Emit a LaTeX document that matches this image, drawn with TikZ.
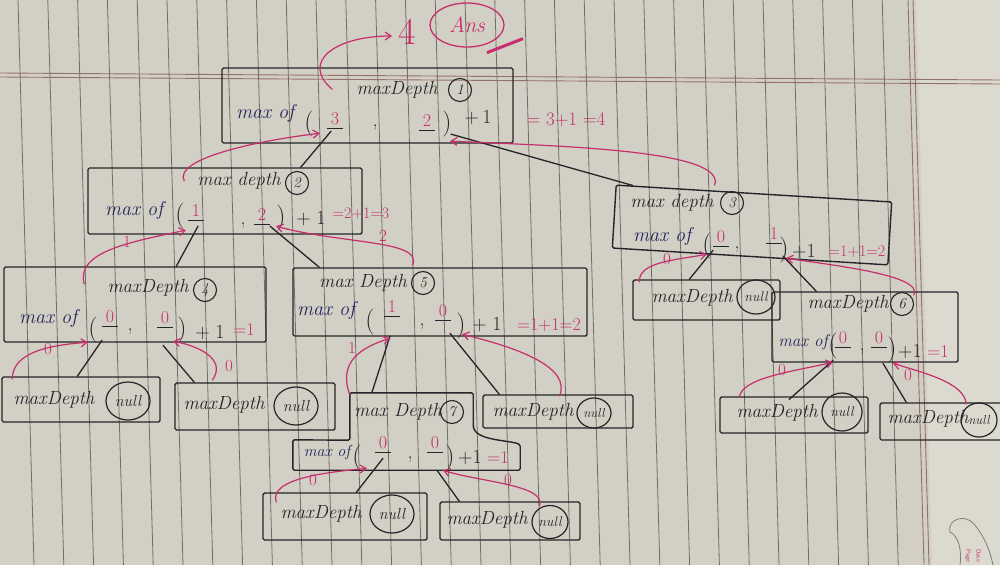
\documentclass[tikz,border=0pt]{standalone}
\usepackage{fontspec}
\usetikzlibrary{arrows.meta,calc,shapes.geometric}
\definecolor{paper}{RGB}{210,208,196}
\definecolor{paperr}{RGB}{220,218,207}
\definecolor{rulec}{RGB}{112,110,102}
\definecolor{marginc}{RGB}{148,112,104}
\definecolor{ink}{RGB}{36,36,42}
\definecolor{blueink}{RGB}{38,38,96}
\definecolor{pinkink}{RGB}{198,46,110}
\tikzset{
 box/.style={draw=ink, line width=1.4pt, inner sep=0pt, rounded corners=1.5pt},
 ttl/.style={font=\fontsize{19}{21}\selectfont\itshape, text=ink, inner sep=0pt},
 num/.style={circle, draw=ink, line width=1.1pt, inner sep=0pt, minimum size=23pt, font=\fontsize{15}{16}\selectfont\itshape, text=ink},
 nullc/.style={ellipse, draw=ink, line width=1.2pt, inner sep=0pt, minimum width=44pt, minimum height=38pt, font=\fontsize{16}{17}\selectfont\itshape, text=ink},
 mof/.style={font=\fontsize{20}{22}\selectfont\itshape, text=blueink, inner sep=0pt},
 val/.style={font=\fontsize{18}{20}\selectfont, text=pinkink, inner sep=1pt},
 sym/.style={font=\fontsize{20}{22}\selectfont, text=ink, inner sep=0pt},
 parn/.style={font=\fontsize{26}{28}\selectfont, text=ink, inner sep=0pt},
 res/.style={font=\fontsize{18}{20}\selectfont, text=pinkink, inner sep=0pt},
 lbl/.style={font=\fontsize{17}{19}\selectfont, text=pinkink, inner sep=0pt},
 link/.style={draw=ink, line width=1.3pt, line cap=round},
 ret/.style={draw=pinkink, line width=1.2pt, -{Straight Barb[length=6pt,width=8pt]}},
}
\newcommand\valnode[4]{\node[val] (#1) at (#2,#3) {#4};
 \draw[ink,line width=1.2pt] ($(#1.south)+(-8,2)$) -- ($(#1.south)+(8,2)$);}
\begin{document}
\begin{tikzpicture}[x=1pt,y=-1pt]
\useasboundingbox (0,0) rectangle (1000,565);
% paper
\fill[paper] (0,0) rectangle (1000,565);
\fill[paperr] (916,0) -- (1000,0) -- (1000,565) -- (932,565) -- cycle;
\foreach \k in {0,...,29} { \draw[rulec, line width=0.8pt] ({18+29.8*\k},0) -- ({34+29.8*\k},565); }
\draw[marginc, line width=0.9pt] (908,0) -- (924,565);
\draw[marginc, line width=0.9pt] (913,0) -- (929,565);
\draw[marginc, line width=0.9pt] (0,73) -- (1000,80);
\draw[marginc, line width=0.9pt] (0,77) -- (1000,84);
% Date/Page mark
\draw[ink!60, line width=0.8pt] (950,532) .. controls (947,518) and (966,514) .. (974,524) .. controls (984,536) and (990,550) .. (993,565);
\draw[ink!60, line width=0.8pt] (950,532) .. controls (958,536) and (962,548) .. (960,565);
\node[rotate=-90, anchor=north west, text=pinkink, font=\sffamily\fontsize{6}{7}\selectfont, inner sep=0pt] (dt) at (981,549) {Date};
\node[rotate=-90, anchor=north west, text=pinkink, font=\sffamily\fontsize{6}{7}\selectfont, inner sep=0pt] (pg) at (971,549) {Page};

% ---------- box 1
\node[box, minimum width=291pt, minimum height=75pt] (b1) at (367.5,105.5) {};
\node[ttl] (b1t) at (397,90) {maxDepth};
\node[num] (b1n) at (460,90) {1};
\node[mof] (b1m) at (265,113) {max of};
\node[parn] (b1o) at (309,124) {(};
\valnode{v1a}{335}{119}{3}
\node[sym] (b1c) at (375,128) {,};
\valnode{v1b}{427}{121}{2}
\node[parn] (b1p) at (447,124) {)};
\node[sym] (b1e) at (478,118) {+\,1};
\node[res, font=\fontsize{19}{21}\selectfont] (b1r) at (566,120) {= 3+1 =4};
% answer
\node[font=\fontsize{38}{40}\selectfont, text=pinkink, inner sep=0pt] (four) at (407,32) {4};
\node[ellipse, draw=pinkink, line width=1.3pt, minimum width=74pt, minimum height=44pt, inner sep=0pt, font=\fontsize{22}{24}\selectfont\itshape, text=pinkink] (ans) at (467,25) {Ans};
\draw[pinkink, line width=3pt] ($(ans.south)+(20,5)$) -- ($(ans.south)+(56,-9)$);

% ---------- box 2
\node[box, minimum width=274pt, minimum height=66pt] (b2) at (225,201) {};
\node[ttl] (b2t) at (239,181) {max depth};
\node[num] (b2n) at (297,183) {2};
\node[mof] (b2m) at (134,210) {max of};
\node[parn] (b2o) at (180,216) {(};
\valnode{v2a}{196}{211}{1}
\node[sym] (b2c) at (243,226) {,};
\valnode{v2b}{262}{215}{2}
\node[parn] (b2p) at (281,218) {)};
\node[sym] (b2e) at (311,219) {+\;1};
\node[res, font=\fontsize{16}{18}\selectfont] (b2r) at (361,214) {=2+1=3};
\node[lbl] (l2a) at (127,242) {1};
\node[lbl] (l2b) at (383,236) {2};

% ---------- box 3
\node[box, minimum width=276pt, minimum height=63pt, rotate=-3.5] (b3) at (752,225) {};
\node[ttl] (b3t) at (672,203) {max depth};
\node[num] (b3n) at (732,203) {3};
\node[mof] (b3m) at (662,236) {max of};
\node[parn] (b3o) at (707,246) {(};
\valnode{v3a}{721}{237}{0}
\node[sym] (b3c) at (737,250) {,};
\valnode{v3b}{774}{234}{1}
\node[parn] (b3p) at (784,250) {)};
\node[sym] (b3e) at (804,252) {+1};
\node[res, font=\fontsize{16}{18}\selectfont] (b3r) at (857,252) {=1+1=2};
\node[lbl] (l3a) at (667,259) {0};

% ---------- box 4
\node[box, minimum width=262pt, minimum height=75pt] (b4) at (135,304.5) {};
\node[ttl] (b4t) at (148,288) {maxDepth};
\node[num] (b4n) at (205,290) {4};
\node[mof] (b4m) at (48,318) {max of};
\node[parn] (b4o) at (93,330) {(};
\valnode{v4a}{110}{317}{0}
\node[sym] (b4c) at (130,332) {,};
\valnode{v4b}{165}{318}{0}
\node[parn] (b4p) at (182,330) {)};
\node[sym] (b4e) at (210,333) {+\;1};
\node[res] (b4r) at (244,330) {=1};
\node[lbl] (l4a) at (48,349) {0};
\node[lbl] (l4b) at (229,366) {0};

% ---------- box 5
\node[box, minimum width=294pt, minimum height=68pt] (b5) at (440,302) {};
\node[ttl] (b5t) at (363,283) {max Depth};
\node[num] (b5n) at (423,283) {5};
\node[mof] (b5m) at (326,310) {max of};
\node[parn] (b5o) at (370,322) {(};
\valnode{v5a}{392}{307}{1}
\node[sym] (b5c) at (422,327) {,};
\valnode{v5b}{443}{311}{0}
\node[parn] (b5p) at (461,326) {)};
\node[sym] (b5e) at (487,325) {+\;1};
\node[res] (b5r) at (549,325) {=1+1=2};
\node[lbl] (l5a) at (352,348) {1};

% ---------- box 6
\node[box, minimum width=186pt, minimum height=70pt] (b6) at (865,327) {};
\node[ttl] (b6t) at (848,304) {maxDepth};
\node[num] (b6n) at (902,304) {6};
\node[mof, font=\fontsize{17}{19}\selectfont\itshape] (b6m) at (803,342) {max of};
\node[parn] (b6o) at (833,346) {(};
\valnode{v6a}{843}{338}{0}
\node[sym] (b6c) at (862,352) {,};
\valnode{v6b}{879}{338}{0}
\node[parn] (b6p) at (892,350) {)};
\node[sym] (b6e) at (910,352) {+1};
\node[res] (b6r) at (938,352) {=1};
\node[lbl] (l6a) at (782,370) {0};
\node[lbl] (l6b) at (908,375) {0};

% ---------- box 7
\node[inner sep=0pt, minimum width=123pt, minimum height=40pt] (b7) at (411.5,413) {};
\node[inner sep=0pt, minimum width=227pt, minimum height=30pt] (b7r) at (406.5,455) {};
\draw[box] (b7.north west) -- (b7.north east) -- ($(b7.south east)+(0,-8)$)
  .. controls ($(b7.south east)+(2,8)$) and ($(b7r.north east)+(-10,0)$) .. ($(b7r.north east)+(0,5)$)
  -- (b7r.south east) -- (b7r.south west) -- (b7r.north west) -- ($(b7.south west)+(0,7)$) -- cycle;
\node[ttl] (b7t) at (398,412) {max Depth};
\node[num] (b7n) at (452,412) {7};
\node[mof, font=\fontsize{16}{18}\selectfont\itshape] (b7m) at (327,452) {max of};
\node[parn] (b7o) at (357,458) {(};
\valnode{v7a}{383}{443}{0}
\node[sym] (b7c) at (410,460) {,};
\valnode{v7b}{435}{443}{0}
\node[parn] (b7p) at (450,458) {)};
\node[sym] (b7e) at (470,458) {+1};
\node[res] (b7r2) at (498,458) {=1};
\node[lbl] (l7a) at (313,480) {0};
\node[lbl] (l7b) at (508,480) {0};

% ---------- null boxes
\node[box, minimum width=158pt, minimum height=45pt] (n4L) at (81,399.5) {};
\node[ttl] (n4Lt) at (54,400) {maxDepth};
\node[nullc] (n4Lc) at (128,401) {null};
\node[box, minimum width=160pt, minimum height=47pt] (n4R) at (255,406.5) {};
\node[ttl] (n4Rt) at (224,405) {maxDepth};
\node[nullc] (n4Rc) at (296,406) {null};
\node[box, minimum width=150pt, minimum height=33pt] (n5R) at (558,411.5) {};
\node[ttl] (n5Rt) at (533,412) {maxDepth};
\node[nullc, minimum width=34pt, minimum height=30pt, font=\fontsize{13}{14}\selectfont\itshape] (n5Rc) at (594,413) {null};
\node[box, minimum width=147pt, minimum height=40pt] (n3L) at (706.5,300) {};
\node[ttl] (n3Lt) at (692,298) {maxDepth};
\node[nullc, minimum width=38pt, minimum height=34pt, font=\fontsize{14}{15}\selectfont\itshape] (n3Lc) at (756,297) {null};
\node[box, minimum width=148pt, minimum height=36pt] (n6L) at (794,415) {};
\node[ttl] (n6Lt) at (777,413) {maxDepth};
\node[nullc, minimum width=40pt, minimum height=38pt, font=\fontsize{14}{15}\selectfont\itshape] (n6Lc) at (842,412) {null};
\node[box, minimum width=130pt, minimum height=37pt] (n6R) at (945,421.5) {};
\node[ttl] (n6Rt) at (928,419) {maxDepth};
\node[nullc, minimum width=36pt, minimum height=34pt, font=\fontsize{13}{14}\selectfont\itshape] (n6Rc) at (979,420) {null};
\node[box, minimum width=164pt, minimum height=47pt] (n7L) at (345,516.5) {};
\node[ttl] (n7Lt) at (321,514) {maxDepth};
\node[nullc] (n7Lc) at (392,514) {null};
\node[box, minimum width=140pt, minimum height=38pt] (n7R) at (510,521) {};
\node[ttl] (n7Rt) at (487,520) {maxDepth};
\node[nullc, minimum width=36pt, minimum height=33pt, font=\fontsize{14}{15}\selectfont\itshape] (n7Rc) at (550,522) {null};

% ---------- calls (black)
\draw[link] ($(v1a.south)+(-4,5)$) -- ($(b2.north east)+(-62,0)$);
\draw[link] ($(v1b.south)+(24,6)$) -- ($(b3.north west)+(17,1)$);
\draw[link] ($(v2a.south)+(2,8)$) -- ($(b4.north west)+(173,0)$);
\draw[link] ($(v2b.south)+(8,4)$) -- ($(b5.north west)+(27,0)$);
\draw[link] ($(v3a.south)+(-8,6)$) -- ($(n3L.north west)+(57,0)$);
\draw[link] ($(v3b.south)+(9,15)$) -- ($(b6.north west)+(45,0)$);
\draw[link] ($(v4a.south)+(-8,16)$) -- ($(n4L.north west)+(76,0)$);
\draw[link] ($(v4b.south)+(-2,20)$) -- ($(n4R.north west)+(20,0)$);
\draw[link] ($(v5a.south)+(-2,22)$) -- ($(b7.north west)+(22,0)$);
\draw[link] ($(v5b.south)+(7,15)$) -- ($(n5R.north west)+(17,0)$);
\draw[link] ($(v6a.south)+(-10,15)$) -- ($(n6L.north west)+(70,3)$);
\draw[link] ($(v6b.south)+(4,18)$) -- ($(n6R.north west)+(27,0)$);
\draw[link] ($(v7a.south)+(0,8)$) -- ($(n7L.north west)+(94,0)$);
\draw[link] ($(v7b.south)+(2,20)$) -- ($(n7R.north west)+(20,0)$);

% ---------- returns (pink)
\draw[ret] ($(b1.north west)+(111,22)$) .. controls (300,62) and (335,36) .. ($(four.west)+(-6,4)$);
\draw[ret] ($(b2.north west)+(97,14)$) .. controls (172,158) and (262,140) .. ($(v1a.south)+(-15,7)$);
\draw[ret] ($(b3.north west)+(99,1)$) .. controls (728,150) and (560,146) .. ($(v1b.south)+(23,13)$);
\draw[ret] ($(b4.north west)+(81,18)$) .. controls (75,252) and (130,242) .. ($(v2a.south)+(-10,12)$);
\draw[ret] ($(b5.north west)+(120,-2)$) .. controls (425,240) and (340,244) .. ($(v2b.south)+(14,4)$);
\draw[ret] ($(n3L.north west)+(7,3)$) .. controls (638,262) and (675,260) .. ($(v3a.south)+(-14,10)$);
\draw[ret] ($(b6.north east)+(-45,4)$) .. controls (925,275) and (830,265) .. ($(v3b.south)+(12,17)$);
\draw[ret] ($(n4L.north west)+(11,3)$) .. controls (12,352) and (50,345) .. ($(v4a.south)+(-22,18)$);
\draw[ret] ($(n4R.north west)+(38,-2)$) .. controls (228,358) and (195,345) .. ($(v4b.south)+(8,16)$);
\draw[ret] ($(b7.north west)+(0,2)$) .. controls (338,362) and (360,348) .. ($(v5a.south)+(-2,24)$);
\draw[ret] ($(n5R.north west)+(77,2)$) .. controls (572,368) and (520,348) .. ($(v5b.south)+(19,16)$);
\draw[ret] ($(n6L.north west)+(20,1)$) .. controls (742,378) and (790,372) .. ($(v6a.south)+(-10,17)$);
\draw[ret] ($(n6R.north west)+(87,2)$) .. controls (965,382) and (920,372) .. ($(v6b.south)+(14,18)$);
\draw[ret] ($(n7L.north west)+(14,10)$) .. controls (268,478) and (330,472) .. ($(v7a.south)+(-16,18)$);
\draw[ret] ($(n7R.north west)+(100,5)$) .. controls (548,485) and (480,482) .. ($(v7b.south)+(8,20)$);
\end{tikzpicture}
\end{document}
